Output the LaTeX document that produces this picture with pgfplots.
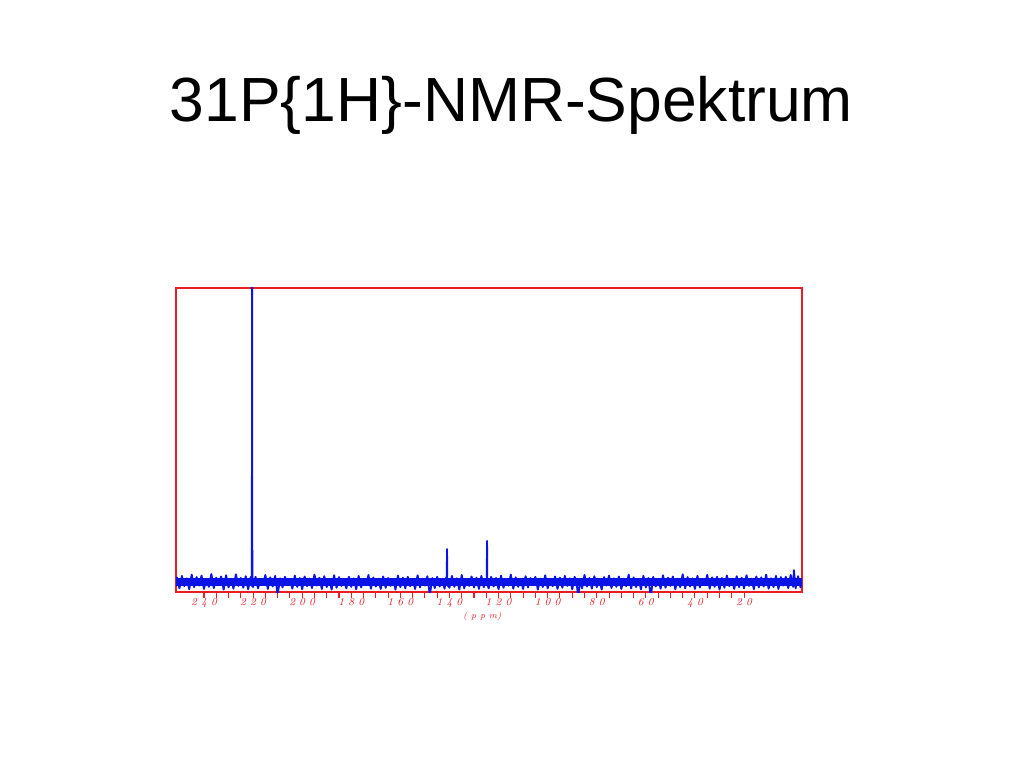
\documentclass[border=0pt]{standalone}
\usepackage{pgfplots}
\pgfplotsset{compat=1.18}
\usepackage{fontspec}
\newfontfamily\titlefont{Liberation Sans}
\definecolor{frame}{RGB}{232,30,36}
\definecolor{spec}{RGB}{10,20,230}
\begin{document}
\begin{tikzpicture}
\useasboundingbox (0pt,0pt) rectangle (768pt,576pt);
\node[anchor=base] at (383.6pt,484.5pt) {\titlefont\fontsize{46.8}{50}\selectfont 31P\{1H\}-NMR-Spektrum};
\begin{axis}[
  at={(132pt,132pt)}, anchor=south west,
  scale only axis, width=469.5pt, height=228pt,
  x dir=reverse, xmin=-3.6, xmax=251.4, ymin=0, ymax=100,
  axis line style={frame, line width=0.8pt},
  xtick={20,40,...,240},
  xticklabels={2 0,4 0,6 0,8 0,1 0 0,1 2 0,1 4 0,1 6 0,1 8 0,2 0 0,2 2 0,2 4 0},
  minor x tick num=3,
  ytick=\empty,
  xtick pos=bottom,
  tick align=outside,
  major tick length=4.5pt, minor tick length=4.5pt,
  tick style={frame, line width=0.8pt},
  xticklabel style={font=\fontsize{8}{8}\selectfont\itshape, text=frame, yshift=3pt},
  xlabel={( p p m)},
  xlabel style={font=\fontsize{6.5}{6.5}\selectfont\itshape, text=frame, yshift=4pt, xshift=-5pt},
  clip=true,
]
\addplot[spec, line width=6.5pt, forget plot] coordinates {(251.4,3.3) (-3.6,3.3)};
\addplot[spec, line width=1.4pt, line join=round] coordinates {
(251.4,4.0) (251,4.8) (250,1.2) (249,5.3) (248,1.9) (247,4.5) (246,0.9) (245,5.7) (244,1.6) (243,4.9) (242,2.1)
(241,5.4) (240,1.0) (239,4.3) (238,1.7) (237,5.9) (236,1.3) (235,4.7) (234,2.2) (233,5.1) (232,0.8)
(231,5.5) (230,1.5) (229,4.4) (228,1.1) (227,5.8) (226,2.0) (225,4.6) (224,1.4) (223,5.2) (222,0.9)
(221,4.9) (220.5,2.0) (220.4,110) (220.3,2.5) (220,1.6) (219,5.0) (218,1.2) (217,4.2) (216,2.3) (215,5.6) (214,1.0) (213,4.8) (212,1.8)
(211,5.3) (210,-1.0) (209,4.5) (208,1.5) (207,5.0) (206,2.2) (205,4.1) (204,1.1) (203,5.4) (202,1.7)
(201,4.6) (200,0.9) (199,5.1) (198,1.9) (197,4.4) (196,1.3) (195,5.7) (194,2.1) (193,4.7) (192,1.0)
(191,5.2) (190,1.6) (189,4.3) (188,0.8) (187,5.5) (186,1.4) (185,4.9) (184,2.0) (183,4.2) (182,1.2)
(181,5.0) (180,1.7) (179,4.5) (178,0.9) (177,5.3) (176,1.5) (175,4.1) (174,2.2) (173,5.6) (172,1.1)
(171,4.8) (170,1.8) (169,4.4) (168,1.0) (167,5.1) (166,1.4) (165,4.6) (164,2.0) (163,4.3) (162,0.8)
(161,5.4) (160,1.6) (159,4.7) (158,1.2) (157,5.0) (156,1.9) (155,4.2) (154,1.0) (153,5.5) (152,1.5)
(151,4.4) (150,2.1) (149,5.2) (148,-1.0) (147,4.6) (146,1.3) (145,5.0) (144,1.8) (143,4.3) (142,1.1)
(141.3,4.9) (141.1,2.4) (141.0,14.1) (140.9,2.4) (140,1.4) (139,5.3) (138,1.7) (137,4.5) (136,0.8) (135,5.6) (134,1.2) (133,4.1) (132,2.0)
(131,5.1) (130,1.5) (129,4.7) (128,1.0) (127,5.3) (126,1.6) (125,4.4) (124.8,2.4) (124.7,16.8) (124.6,2.4) (124,1.2) (123,5.0) (122,1.8)
(121,4.6) (120,0.9) (119,5.4) (118,1.4) (117,4.2) (116,2.1) (115,5.7) (114,1.1) (113,4.8) (112,1.7)
(111,4.3) (110,1.0) (109,5.2) (108,1.5) (107,4.6) (106,2.2) (105,5.0) (104,0.8) (103,4.4) (102,1.6)
(101,5.5) (100,1.2) (99,4.1) (98,1.9) (97,5.1) (96,1.0) (95,4.7) (94,1.4) (93,5.3) (92,2.0)
(91,4.5) (90,0.9) (89,5.0) (88,1.5) (87.4,-2.5) (87,4.3) (86,1.2) (85,5.6) (84,1.8) (83,4.6) (82,1.1)
(81,5.2) (80,1.6) (79,4.2) (78,0.8) (77,4.9) (76,2.1) (75,5.4) (74,1.3) (73,4.5) (72,1.7)
(71,5.1) (70,1.0) (69,4.4) (68,1.9) (67,5.7) (66,1.2) (65,4.8) (64,1.6) (63,4.2) (62,0.9)
(61,5.3) (60,1.5) (59,4.6) (58,-1.5) (57,5.0) (56,1.8) (55,4.3) (54,1.1) (53,5.5) (52,1.4)
(51,4.7) (50,2.0) (49,5.1) (48,0.9) (47,4.4) (46,1.6) (45,5.8) (44,1.2) (43,4.9) (42,1.8)
(41,4.5) (40,1.0) (39,5.3) (38,1.5) (37,4.1) (36,2.2) (35,5.6) (34,1.1) (33,4.8) (32,1.7)
(31,5.0) (30,0.8) (29,4.6) (28,1.4) (27,5.4) (26,1.9) (25,4.3) (24,1.0) (23,5.2) (22,1.6)
(21,4.7) (20,1.2) (19,5.5) (18,2.0) (17,4.4) (16,0.9) (15,5.1) (14,1.5) (13,4.8) (12,1.8)
(11,5.7) (10,1.1) (9,4.5) (8,1.6) (7,5.3) (6,1.0) (5,4.9) (4,2.1) (3,5.0) (2,1.3)
(1,5.6) (0,1.7) (-0.3,7.2) (-1,1.2) (-2,5.2) (-3,1.5) (-3.6,4.6)
};
\end{axis}
\end{tikzpicture}
\end{document}
